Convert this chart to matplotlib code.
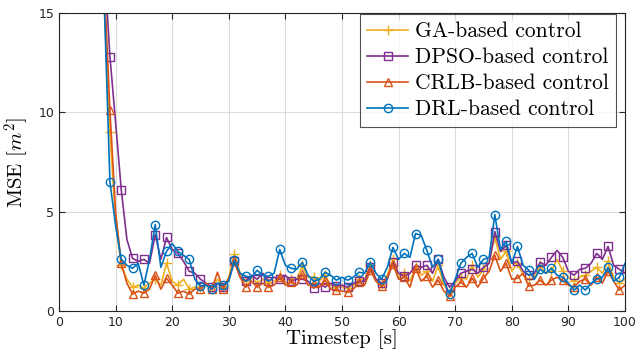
import numpy as np
import matplotlib
matplotlib.use("Agg")
import matplotlib.pyplot as plt

plt.rcParams['mathtext.fontset'] = 'cm'

timestep = np.arange(1, 101)

ga_mse = [88, 68, 53, 41, 32, 25, 19.5, 15.3, 9.0, 4.5,
          2.3, 1.6, 1.2, 1.3, 1.15, 1.4, 1.6, 1.3, 2.4, 1.5,
          1.3, 1.6, 1.1, 1.2, 1.2, 1.3, 1.2, 1.6, 1.2, 1.7,
          2.85, 1.9, 1.5, 1.7, 1.4, 1.6, 1.4, 1.5, 1.8, 1.4,
          1.6, 1.6, 2.3, 1.7, 1.7, 1.5, 1.8, 1.3, 1.2, 1.2,
          1.15, 1.3, 1.6, 1.6, 2.3, 1.6, 1.35, 1.8, 2.6, 1.7,
          1.9, 1.5, 2.2, 1.8, 2.0, 1.5, 2.3, 1.3, 0.95, 1.4,
          1.7, 1.6, 2.3, 1.7, 2.1, 2.5, 3.7, 2.6, 3.0, 2.0,
          2.4, 1.8, 1.6, 1.7, 2.3, 1.9, 2.0, 2.6, 2.0, 1.7,
          1.5, 1.7, 1.8, 2.0, 2.2, 1.9, 2.5, 1.7, 1.4, 1.6]

dpso_mse = [95, 75, 60, 47, 37, 29, 23, 17.5, 12.8, 9.5,
            6.1, 3.6, 2.65, 2.5, 2.6, 2.4, 3.85, 2.6, 3.7, 3.1,
            2.9, 2.5, 2.0, 1.9, 1.6, 1.4, 1.2, 1.4, 1.2, 1.6,
            2.5, 1.7, 1.5, 1.8, 1.6, 1.9, 1.5, 1.7, 1.6, 1.8,
            1.5, 1.6, 1.6, 1.5, 1.15, 1.4, 1.2, 1.4, 1.25, 1.3,
            1.2, 1.4, 1.5, 1.5, 2.2, 1.6, 1.4, 1.6, 2.45, 1.9,
            1.75, 1.9, 2.3, 2.2, 2.3, 1.9, 2.6, 1.7, 1.2, 1.5,
            1.9, 2.0, 2.1, 1.9, 2.2, 2.4, 4.0, 3.0, 3.3, 2.4,
            2.5, 2.0, 1.8, 1.9, 2.45, 2.3, 2.7, 3.05, 2.7, 2.0,
            1.8, 2.1, 2.15, 2.4, 2.9, 2.6, 3.25, 2.3, 2.1, 1.9]

crlb_mse = [92, 72, 57, 44, 35, 27, 21, 16.5, 10.1, 5.0,
            2.4, 1.4, 0.85, 1.0, 0.9, 1.1, 1.8, 1.1, 1.65, 1.3,
            0.9, 1.0, 0.85, 1.1, 1.1, 1.4, 1.1, 1.95, 1.1, 1.6,
            2.5, 1.7, 1.2, 1.5, 1.2, 1.4, 1.2, 1.3, 1.7, 1.3,
            1.45, 1.3, 1.85, 1.3, 1.4, 1.2, 1.55, 1.1, 1.05, 1.0,
            0.95, 1.1, 1.45, 1.3, 2.05, 1.5, 1.25, 1.7, 2.35, 1.6,
            1.7, 1.2, 2.15, 1.5, 1.75, 1.2, 1.55, 1.0, 0.75, 1.2,
            1.45, 1.2, 1.65, 1.2, 1.65, 2.0, 2.8, 2.0, 2.4, 1.6,
            1.65, 1.9, 1.25, 1.3, 1.55, 1.3, 1.55, 1.7, 1.55, 1.3,
            1.2, 1.5, 1.6, 1.3, 1.7, 1.4, 2.0, 1.5, 1.05, 1.3]

drl_mse = [90, 70, 55, 42, 33, 26, 20, 15.5, 6.5, 4.3,
           2.6, 2.3, 2.15, 2.4, 1.3, 2.6, 4.35, 2.2, 3.0, 3.4,
           3.0, 2.8, 2.6, 1.6, 1.25, 1.3, 1.1, 1.4, 1.3, 1.5,
           2.55, 1.9, 1.75, 1.7, 2.05, 1.8, 1.75, 1.9, 3.1, 2.3,
           2.15, 2.1, 2.45, 1.8, 1.5, 1.6, 1.95, 1.8, 1.55, 1.7,
           1.55, 1.7, 1.95, 1.9, 2.45, 1.9, 1.6, 2.2, 3.2, 2.6,
           2.9, 2.7, 3.9, 3.8, 3.05, 2.2, 2.6, 1.5, 0.85, 1.6,
           2.4, 2.7, 2.9, 2.2, 2.6, 2.7, 4.85, 3.1, 3.5, 2.4,
           3.25, 2.3, 2.05, 1.6, 2.1, 1.9, 2.15, 1.8, 1.7, 1.4,
           1.05, 1.3, 1.05, 1.4, 1.6, 1.7, 2.2, 1.5, 1.7, 2.4]

series = [
    ("GA-based control", ga_mse, '#EDB120', '+'),
    ("DPSO-based control", dpso_mse, '#7E2F8E', 's'),
    ("CRLB-based control", crlb_mse, '#D95319', '^'),
    ("DRL-based control", drl_mse, '#0072BD', 'o'),
]

fig = plt.figure(figsize=(6.44, 3.56), dpi=100)
ax = fig.add_axes([0.0916, 0.1264, 0.8789, 0.8371])

for label, values, color, marker in series:
    ax.plot(timestep, values, color=color, marker=marker, markevery=2,
            markersize=6 if marker != '+' else 7, markerfacecolor='none',
            markeredgewidth=1.0, linewidth=1.2, label=label)

ax.set_xlim(0, 100)
ax.set_ylim(0, 15)
ax.set_xticks(np.arange(0, 101, 10))
ax.set_yticks([0, 5, 10, 15])
ax.grid(True, color='#dcdcdc', linewidth=0.8)
ax.set_axisbelow(True)
ax.tick_params(direction='in', top=True, right=True, labelsize=9,
               length=4, width=0.8, colors='#262626')
for spine in ax.spines.values():
    spine.set_color('#262626')
    spine.set_linewidth(0.8)

ax.set_xlabel('Timestep [s]', fontfamily='cmr10', fontsize=15, labelpad=0)
ax.set_ylabel(r'MSE [$m^2$]', fontfamily='cmr10', fontsize=15, labelpad=5)

leg = ax.legend(loc='upper right', bbox_to_anchor=(0.986, 1.0),
                prop={'family': 'cmr10', 'size': 15.5},
                frameon=True, fancybox=False, edgecolor='#262626',
                borderpad=0.35, labelspacing=0.3, handlelength=1.9,
                handletextpad=0.3, borderaxespad=0.05)
leg.get_frame().set_linewidth(0.8)

fig.savefig('out.png', dpi=100)
